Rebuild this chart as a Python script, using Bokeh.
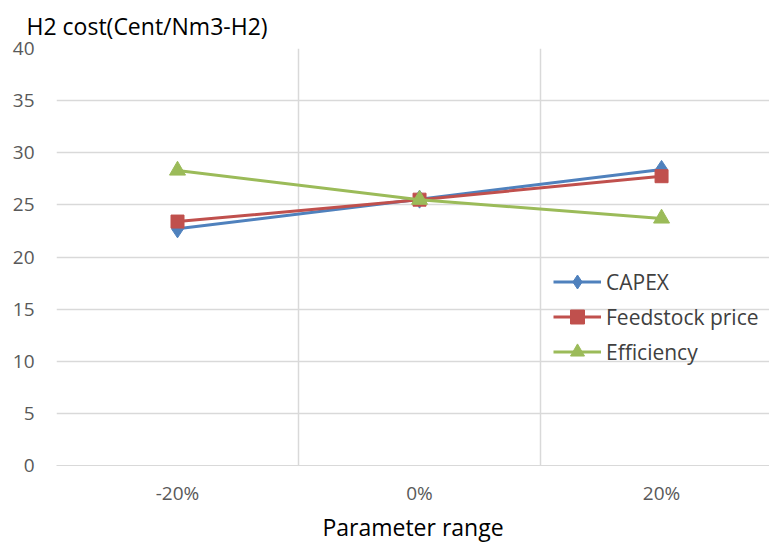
from bokeh.plotting import figure
from bokeh.models import FixedTicker, Legend, LegendItem, Range1d
from bokeh.embed import file_html
from bokeh.resources import INLINE

categories = ["-20%", "0%", "20%"]
capex = [22.7, 25.55, 28.4]
feedstock = [23.4, 25.5, 27.75]
efficiency = [28.3, 25.5, 23.7]
y_ticks = [0, 5, 10, 15, 20, 25, 30, 35, 40]

xs = list(range(len(categories)))

p = figure(width=769, height=545, output_backend="svg", toolbar_location=None,
           x_range=Range1d(-0.5, 2.446), y_range=Range1d(0, 40),
           min_border_left=56, min_border_right=0, min_border_top=0, min_border_bottom=0)
p.outline_line_color = None
p.background_fill_color = "white"
p.border_fill_color = "white"

p.title.text = "H2 cost(Cent/Nm3-H2)"
p.title.text_font = "Open Sans"
p.title.text_font_size = "23px"
p.title.text_font_style = "normal"
p.title.text_color = "#000000"
p.title.offset = -30
p.title.standoff = 14

# y axis
p.yaxis.ticker = FixedTicker(ticks=y_ticks)
p.yaxis.axis_line_color = None
p.yaxis.major_tick_line_color = None
p.yaxis.minor_tick_line_color = None
p.yaxis.major_label_text_font = "Open Sans"
p.yaxis.major_label_text_font_size = "19px"
p.yaxis.major_label_text_color = "#595959"
p.yaxis.major_label_standoff = 16

# x axis
p.xaxis.ticker = FixedTicker(ticks=xs)
p.xaxis.major_label_overrides = {i: c for i, c in enumerate(categories)}
p.xaxis.axis_line_color = "#d9d9d9"
p.xaxis.major_tick_line_color = None
p.xaxis.minor_tick_line_color = None
p.xaxis.major_label_text_font = "Open Sans"
p.xaxis.major_label_text_font_size = "19px"
p.xaxis.major_label_text_color = "#595959"
p.xaxis.major_label_standoff = 8
p.xaxis.axis_label = "Parameter range"
p.xaxis.axis_label_text_font = "Open Sans"
p.xaxis.axis_label_text_font_size = "23px"
p.xaxis.axis_label_text_font_style = "normal"
p.xaxis.axis_label_text_color = "#000000"
p.xaxis.axis_label_standoff = 2

# grids
p.ygrid.ticker = FixedTicker(ticks=y_ticks)
p.ygrid.grid_line_color = "#d9d9d9"
p.ygrid.grid_line_width = 1.5
p.xgrid.ticker = FixedTicker(ticks=[-0.5, 0.5, 1.5, 2.5])
p.xgrid.grid_line_color = "#d9d9d9"
p.xgrid.grid_line_width = 1.5

series = [
    ("CAPEX", capex, "#4F81BD", "diamond", 18),
    ("Feedstock price", feedstock, "#C0504D", "square", 13),
    ("Efficiency", efficiency, "#9BBB59", "triangle", 16),
]
items = []
for name, vals, color, marker, size in series:
    r1 = p.line(xs, vals, line_color=color, line_width=3)
    r2 = p.scatter(xs, vals, marker=marker, size=size, fill_color=color, line_color=color)
    items.append(LegendItem(label=name, renderers=[r1, r2]))

legend = Legend(items=items, location=(497, 96), background_fill_alpha=0,
                border_line_color=None, label_text_font="Open Sans",
                label_text_font_size="21px", label_text_color="#404040",
                glyph_width=48, glyph_height=35, spacing=0, label_standoff=5,
                padding=0, margin=0)
p.add_layout(legend, "center")

open("out.html", "w").write(file_html(p, INLINE))
